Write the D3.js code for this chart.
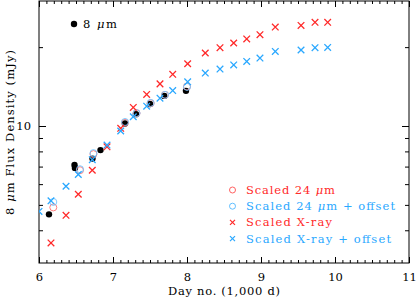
<!DOCTYPE html>
<html><head><meta charset="utf-8">
<script src="https://cdn.jsdelivr.net/npm/d3@7"></script>
<style>body{margin:0;background:#fff}svg{display:block}text{font-family:"DejaVu Serif",serif}</style>
</head><body>
<svg id="c" width="416" height="299"></svg>
<script>
// 8 micron observed
const irDays = [6135, 6480, 6486, 6723, 6831, 7162, 7311, 7500, 7693, 7986];
const irFlux = [4.60, 7.10, 6.92, 7.51, 8.09, 10.22, 11.10, 12.14, 13.03, 13.62];
// scaled 24 micron
const m24Days = [6193, 6554, 6736, 7162, 7318, 7509, 7703, 8000];
const m24Flux = [4.89, 6.78, 7.81, 10.29, 11.19, 12.22, 13.15, 14.15];
const m24OffFlux = [5.13, 6.84, 7.88, 10.36, 11.20, 12.25, 13.15, 14.10];
// scaled X-ray
const xrDays = [6000, 6162, 6365, 6531, 6720, 6919, 7104, 7274, 7455, 7635, 7807, 8009, 8247, 8446, 8631, 8807, 8986, 9193, 9541, 9730, 9901];
const xrFlux = [null, 3.58, 4.56, 5.49, 6.78, 8.33, 9.80, 11.77, 13.20, 14.48, 15.75, 17.28, 19.00, 19.90, 20.74, 21.49, 22.32, 23.85, 24.21, 24.88, 24.88];
const xrOffFlux = [4.72, 5.18, 5.89, 6.53, 7.44, 8.46, 9.57, 10.85, 11.90, 12.77, 13.65, 14.74, 15.92, 16.49, 17.10, 17.64, 18.17, 19.26, 19.50, 19.90, 19.95];
const xTicks = [6000, 7000, 8000, 9000, 10000, 11000];
const yMinorTicks = [4, 5, 6, 7, 8, 9, 20];
const yMajorTicks = [10];

const RED = "#ff2a2a", BLUE = "#2aa8ff";
const svg = d3.select("#c");
const L = 39, R = 409, T = 1, B = 263;
const x = d3.scaleLinear().domain([6000, 11000]).range([L, R]);
const y = d3.scaleLog().domain([3, 30]).range([B, T]);

svg.append("defs").append("clipPath").attr("id", "clip")
  .append("rect").attr("x", L).attr("y", T).attr("width", R - L).attr("height", B - T);

const xMinor = d3.range(6000, 11001, 100).filter(d => d % 1000 !== 0);
function axisSet(gen, tx, ty) { return svg.append("g").attr("transform", `translate(${tx},${ty})`).call(gen); }
axisSet(d3.axisBottom(x).tickValues(xTicks).tickSize(-6).tickPadding(10).tickFormat(d => d / 1000), 0, B);
axisSet(d3.axisBottom(x).tickValues(xMinor).tickSize(-3).tickFormat(""), 0, B);
axisSet(d3.axisTop(x).tickValues(xTicks).tickSize(-6).tickFormat(""), 0, T);
axisSet(d3.axisTop(x).tickValues(xMinor).tickSize(-3).tickFormat(""), 0, T);
const ly = axisSet(d3.axisLeft(y).tickValues(yMajorTicks).tickSize(-7).tickPadding(6).tickFormat(d3.format("d")), L, 0);
axisSet(d3.axisLeft(y).tickValues(yMinorTicks).tickSize(-4).tickFormat(""), L, 0);
axisSet(d3.axisRight(y).tickValues(yMajorTicks).tickSize(-7).tickFormat(""), R, 0);
axisSet(d3.axisRight(y).tickValues(yMinorTicks).tickSize(-4).tickFormat(""), R, 0);
svg.selectAll(".domain").remove();
svg.selectAll(".tick line").attr("stroke", "#000");
svg.selectAll(".tick text").attr("font-family", "DejaVu Serif").attr("font-size", 11.5).attr("fill", "#000");
ly.selectAll(".tick text").attr("dx", "-2");
svg.append("rect").attr("x", L).attr("y", T).attr("width", R - L).attr("height", B - T)
  .attr("fill", "none").attr("stroke", "#000").attr("stroke-width", 1);

const plot = svg.append("g").attr("clip-path", "url(#clip)");
const ir = irDays.map((d, i) => [d, irFlux[i]]);
plot.selectAll(".ir").data(ir).join("circle").attr("cx", d => x(d[0])).attr("cy", d => y(d[1])).attr("r", 3.2).attr("fill", "#000");
const m24 = m24Days.map((d, i) => [d, m24Flux[i]]);
const m24o = m24Days.map((d, i) => [d, m24OffFlux[i]]);
plot.selectAll(".m24").data(m24).join("circle").attr("cx", d => x(d[0])).attr("cy", d => y(d[1])).attr("r", 3.5).attr("fill", "none").attr("stroke", "#ff7070").attr("stroke-width", 0.9);
plot.selectAll(".m24o").data(m24o).join("circle").attr("cx", d => x(d[0])).attr("cy", d => y(d[1])).attr("r", 3.5).attr("fill", "none").attr("stroke", "#70c4ff").attr("stroke-width", 0.9);
function cross(g, data, col, s, sw) {
  const p = data.map(d => `M${x(d[0]) - s},${y(d[1]) - s}L${x(d[0]) + s},${y(d[1]) + s}M${x(d[0]) - s},${y(d[1]) + s}L${x(d[0]) + s},${y(d[1]) - s}`).join("");
  g.append("path").attr("d", p).attr("stroke", col).attr("stroke-width", sw).attr("fill", "none");
}
cross(plot, xrDays.map((d, i) => [d, xrFlux[i]]).filter(d => d[1] != null), RED, 3.3, 1.3);
cross(plot, xrDays.map((d, i) => [d, xrOffFlux[i]]), BLUE, 3.3, 1.3);

// labels
svg.append("text").attr("x", 168).attr("y", 295).attr("font-size", 11.5)
  .attr("textLength", 112).attr("lengthAdjust", "spacing").text("Day no. (1,000 d)");
const yl = svg.append("text").attr("transform", `translate(14,215) rotate(-90)`).attr("font-size", 11.5)
  .attr("textLength", 165).attr("lengthAdjust", "spacing");
yl.append("tspan").text("8 ");
yl.append("tspan").attr("font-style", "italic").text("μ");
yl.append("tspan").text("m Flux Density (mJy)");

// top-left legend
svg.append("circle").attr("cx", 74).attr("cy", 24).attr("r", 3.2).attr("fill", "#000");
const t0 = svg.append("text").attr("x", 83).attr("y", 28).attr("font-size", 11.5)
  .attr("textLength", 34).attr("lengthAdjust", "spacing");
t0.append("tspan").text("8 "); t0.append("tspan").attr("font-style", "italic").text("μ"); t0.append("tspan").text("m");

// bottom-right legend
const leg = [
  {lab: ["Scaled 24 ", "μ", "m"], col: RED, sym: "o", sc: "#ff5050", w: 89},
  {lab: ["Scaled 24 ", "μ", "m + offset"], col: BLUE, sym: "o", sc: "#50b8ff", w: 149},
  {lab: ["Scaled X-ray"], col: RED, sym: "x", w: 86},
  {lab: ["Scaled X-ray + offset"], col: BLUE, sym: "x", w: 145}
];
leg.forEach((e, i) => {
  const cy = 190 + i * 16.2;
  if (e.sym === "o") svg.append("circle").attr("cx", 232.5).attr("cy", cy).attr("r", 3).attr("fill", "none").attr("stroke", e.sc).attr("stroke-width", 0.9);
  else svg.append("path").attr("d", `M230,${cy - 2.5}L235,${cy + 2.5}M230,${cy + 2.5}L235,${cy - 2.5}`).attr("stroke", e.col).attr("stroke-width", 1.2);
  const t = svg.append("text").attr("x", 246).attr("y", cy + 4).attr("font-size", 11.5).attr("fill", e.col)
    .attr("textLength", e.w).attr("lengthAdjust", "spacing");
  t.append("tspan").text(e.lab[0]);
  if (e.lab[1]) { t.append("tspan").attr("font-style", "italic").text(e.lab[1]); t.append("tspan").text(e.lab[2]); }
});
</script>
</body></html>
